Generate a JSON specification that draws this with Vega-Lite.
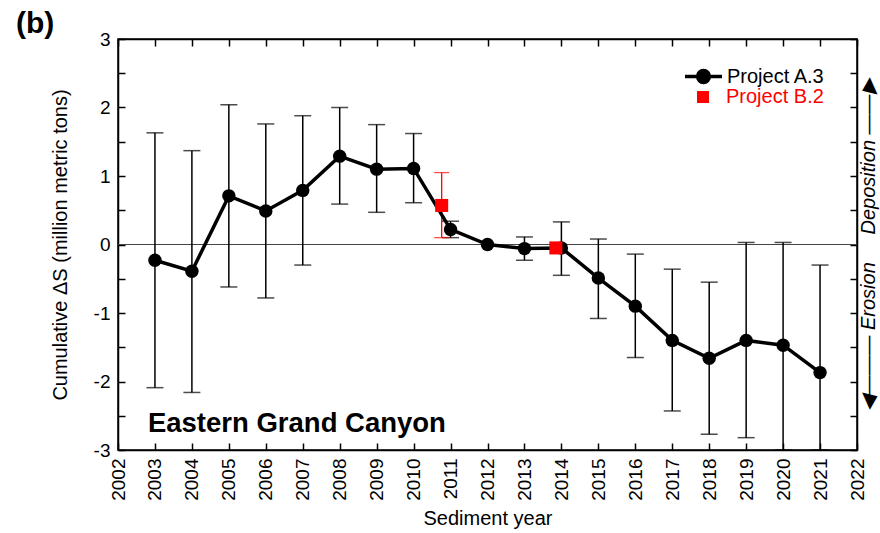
{
  "$schema": "https://vega.github.io/schema/vega-lite/v6.json",
  "width": 739,
  "height": 411,
  "autosize": {"type": "none"},
  "padding": {"left": 118, "top": 39, "right": 23, "bottom": 83},
  "background": "white",
  "title": {"text": "(b)", "anchor": "start", "frame": "group", "fontSize": 30, "fontWeight": "bold", "font": "Liberation Sans", "color": "black", "dx": -102, "dy": 15, "offset": 6},
  "datasets": {
    "a3": [
      {"year": 2003, "value": -0.23, "lo": -2.09, "hi": 1.63},
      {"year": 2004, "value": -0.39, "lo": -2.16, "hi": 1.37},
      {"year": 2005, "value": 0.71, "lo": -0.62, "hi": 2.04},
      {"year": 2006, "value": 0.49, "lo": -0.78, "hi": 1.76},
      {"year": 2007, "value": 0.79, "lo": -0.30, "hi": 1.88},
      {"year": 2008, "value": 1.29, "lo": 0.59, "hi": 2.00},
      {"year": 2009, "value": 1.10, "lo": 0.47, "hi": 1.75},
      {"year": 2010, "value": 1.11, "lo": 0.61, "hi": 1.62},
      {"year": 2011, "value": 0.22, "lo": 0.10, "hi": 0.34},
      {"year": 2012, "value": 0.00, "lo": null, "hi": null},
      {"year": 2013, "value": -0.06, "lo": -0.23, "hi": 0.11},
      {"year": 2014, "value": -0.05, "lo": -0.45, "hi": 0.33},
      {"year": 2015, "value": -0.49, "lo": -1.08, "hi": 0.08},
      {"year": 2016, "value": -0.90, "lo": -1.65, "hi": -0.14},
      {"year": 2017, "value": -1.40, "lo": -2.43, "hi": -0.36},
      {"year": 2018, "value": -1.66, "lo": -2.77, "hi": -0.55},
      {"year": 2019, "value": -1.40, "lo": -2.82, "hi": 0.03},
      {"year": 2020, "value": -1.47, "lo": -3.0, "hi": 0.03},
      {"year": 2021, "value": -1.87, "lo": -3.0, "hi": -0.30}
    ],
    "b2": [
      {"year": 2010.76, "value": 0.57, "lo": 0.10, "hi": 1.05},
      {"year": 2013.85, "value": -0.05, "lo": null, "hi": null}
    ],
    "one": [{}]
  },
  "data": {"name": "a3"},
  "resolve": {"axis": {"x": "independent", "y": "independent"}},
  "layer": [
    {
      "data": {"name": "one"},
      "mark": {"type": "rule", "color": "#444444", "strokeWidth": 1.2},
      "encoding": {"y": {"datum": 0, "type": "quantitative", "axis": null, "scale": {"domain": [-3, 3], "nice": false}}}
    },
    {
      "mark": {"type": "rule", "color": "black", "strokeWidth": 1.5},
      "encoding": {
        "x": {"field": "year", "type": "quantitative", "scale": {"domain": [2002, 2022], "nice": false, "zero": false},
              "axis": {"orient": "top", "labels": false, "title": null, "values": [2002,2003,2004,2005,2006,2007,2008,2009,2010,2011,2012,2013,2014,2015,2016,2017,2018,2019,2020,2021,2022]}},
        "y": {"field": "lo", "type": "quantitative", "scale": {"domain": [-3, 3], "nice": false},
              "axis": {"orient": "right", "labels": false, "values": [-3,-2.5,-2,-1.5,-1,-0.5,0,0.5,1,1.5,2,2.5,3],
                       "title": "◀——— Erosion\u00a0\u00a0\u00a0\u00a0\u00a0Deposition ——▶", "titleAngle": 270, "titleFontStyle": "italic", "titlePadding": 21, "titleFontSize": 20}},
        "y2": {"field": "hi"}
      }
    },
    {
      "mark": {"type": "tick", "orient": "horizontal", "color": "black", "thickness": 1.5, "size": 17},
      "encoding": {
        "x": {"field": "year", "type": "quantitative", "axis": null},
        "y": {"field": "lo", "type": "quantitative", "axis": null}
      }
    },
    {
      "mark": {"type": "tick", "orient": "horizontal", "color": "black", "thickness": 1.5, "size": 17},
      "encoding": {
        "x": {"field": "year", "type": "quantitative", "axis": null},
        "y": {"field": "hi", "type": "quantitative", "axis": null}
      }
    },
    {
      "data": {"name": "b2"},
      "layer": [
        {
          "mark": {"type": "rule", "color": "#ff0000", "strokeWidth": 1.3},
          "encoding": {
            "x": {"field": "year", "type": "quantitative", "axis": null},
            "y": {"field": "lo", "type": "quantitative", "axis": null},
            "y2": {"field": "hi"}
          }
        },
        {
          "mark": {"type": "tick", "orient": "horizontal", "color": "#ff0000", "thickness": 1.3, "size": 15},
          "encoding": {
            "x": {"field": "year", "type": "quantitative", "axis": null},
            "y": {"field": "lo", "type": "quantitative", "axis": null}
          }
        },
        {
          "mark": {"type": "tick", "orient": "horizontal", "color": "#ff0000", "thickness": 1.3, "size": 15},
          "encoding": {
            "x": {"field": "year", "type": "quantitative", "axis": null},
            "y": {"field": "hi", "type": "quantitative", "axis": null}
          }
        }
      ]
    },
    {
      "mark": {"type": "line", "color": "black", "strokeWidth": 3.5},
      "encoding": {
        "x": {"field": "year", "type": "quantitative",
              "axis": {"orient": "bottom", "title": "Sediment year", "format": "d", "labelAngle": 270, "labelAlign": "right", "labelBaseline": "middle",
                       "values": [2002,2003,2004,2005,2006,2007,2008,2009,2010,2011,2012,2013,2014,2015,2016,2017,2018,2019,2020,2021,2022], "labelPadding": 15, "titlePadding": 8}},
        "y": {"field": "value", "type": "quantitative",
              "axis": {"orient": "left", "title": "Cumulative ΔS (million metric tons)", "values": [-3,-2.5,-2,-1.5,-1,-0.5,0,0.5,1,1.5,2,2.5,3],
                       "labelExpr": "datum.value % 1 === 0 ? toString(datum.value) : ''", "labelPadding": 15, "titlePadding": 23}}
      }
    },
    {
      "mark": {"type": "point", "filled": true, "size": 180, "opacity": 1},
      "encoding": {
        "x": {"field": "year", "type": "quantitative", "axis": null},
        "y": {"field": "value", "type": "quantitative", "axis": null},
        "color": {"datum": "Project A.3", "type": "nominal", "scale": {"domain": ["Project A.3"], "range": ["black"]},
                  "legend": {"orient": "none", "legendX": 565, "legendY": 17, "title": null, "padding": 0,
                             "symbolType": "M-1,0L1,0M-0.32,0A0.32,0.32,0,1,1,0.32,0A0.32,0.32,0,1,1,-0.32,0Z",
                             "symbolSize": 1369, "symbolStrokeWidth": 3.5, "symbolStrokeColor": "black", "symbolFillColor": "black",
                             "labelFontSize": 20, "labelFont": "Liberation Sans", "labelColor": "black", "labelOffset": 3}}
      }
    },
    {
      "data": {"name": "b2"},
      "mark": {"type": "point", "filled": true, "size": 170, "color": "#ff0000", "opacity": 1},
      "encoding": {
        "x": {"field": "year", "type": "quantitative", "axis": null},
        "y": {"field": "value", "type": "quantitative", "axis": null},
        "shape": {"datum": "Project B.2", "type": "nominal", "scale": {"domain": ["Project B.2"], "range": ["square"]},
                  "legend": {"orient": "none", "legendX": 575, "legendY": 48, "title": null, "padding": 0,
                             "symbolSize": 144, "symbolFillColor": "#ff0000", "symbolStrokeColor": "#ff0000",
                             "labelFontSize": 20, "labelFont": "Liberation Sans", "labelColor": "#ff0000", "labelOffset": 13}}
      }
    },
    {
      "data": {"name": "one"},
      "mark": {"type": "text", "text": "Eastern Grand Canyon", "font": "Liberation Sans", "fontSize": 27.5, "fontWeight": "bold", "align": "left", "baseline": "alphabetic", "color": "black"},
      "encoding": {"x": {"datum": 2002.81, "type": "quantitative", "axis": null}, "y": {"datum": -2.74, "type": "quantitative", "axis": null}}
    }
  ],
  "config": {
    "view": {"stroke": "black", "strokeWidth": 1.5},
    "axis": {"grid": false, "domainColor": "black", "domainWidth": 1.5, "tickColor": "black", "tickWidth": 1.5, "tickSize": -7,
             "labelFont": "Liberation Sans", "labelFontSize": 19, "labelColor": "black",
             "titleFont": "Liberation Sans", "titleFontSize": 20, "titleFontWeight": "normal", "titleColor": "black"}
  }
}
